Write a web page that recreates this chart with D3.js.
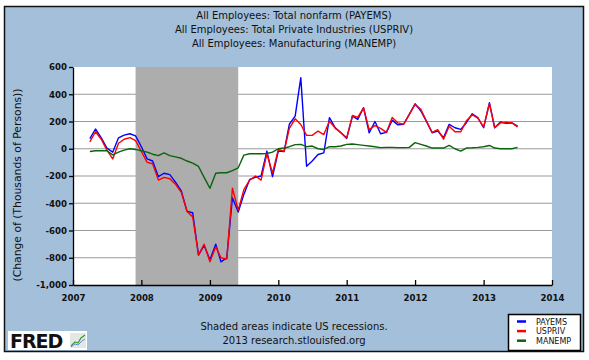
<!DOCTYPE html>
<html>
<head>
<meta charset="utf-8">
<script src="https://cdn.jsdelivr.net/npm/d3@7"></script>
<style>
  body { margin: 0; background: #fff; }
  text { font-family: "DejaVu Sans", Verdana, sans-serif; }
</style>
</head>
<body>
<div id="div_chart"></div>
<script>
// chart texts
const titles = [
  "All Employees: Total nonfarm (PAYEMS)",
  "All Employees: Total Private Industries (USPRIV)",
  "All Employees: Manufacturing (MANEMP)"
];
const yTitle = "(Change of (Thousands of Persons))";
const footer = ["Shaded areas indicate US recessions.", "2013 research.stlouisfed.org"];

// monthly changes, Apr 2007 .. Jul 2013
const firstMonth = new Date(2007, 3, 1);
const lastMonth = new Date(2013, 6, 1);

const payems = [
  75, 145, 80, 5, -25, 80, 100, 110, 95,
  15, -75, -90, -205, -180, -190, -245, -310, -460, -470, -780, -710,
  -815, -700, -830, -800, -360, -465, -335, -225, -210, -200, -17, -205,
  -17, -20, 180, 240, 522, -128, -90, -42, -30, 228, 154, 117,
  76, 240, 215, 301, 117, 200, 110, 120, 210, 175, 180, 252,
  330, 277, 203, 117, 130, 81, 179, 154, 142, 191, 257, 228,
  154, 338, 154, 196, 186, 191, 166
];

const usPriv = [
  50, 125, 70, -10, -75, 40, 70, 82, 60,
  -20, -100, -110, -230, -210, -220, -260, -320, -460, -500, -780, -700,
  -830, -720, -800, -810, -290, -450, -300, -230, -200, -230, -35, -180,
  -5, -20, 150, 220, 178, 98, 98, 130, 104, 203, 150, 120,
  80, 245, 230, 300, 140, 170, 150, 120, 230, 190, 180, 250,
  325, 289, 205, 120, 140, 70, 165, 125, 125, 205, 250, 225,
  160, 330, 155, 190, 195, 190, 160
];

const manemp = [
  -20, -15, -15, -15, -45, -25, -10, 0, -5,
  -15, -25, -40, -50, -30, -50, -60, -70, -90, -105, -130, -210,
  -290, -180, -176, -176, -160, -140, -47, -37, -37, -37, -35, -25,
  0, 5, 15, 30, 32, 15, 20, 0, -5, 15, 15, 20,
  32, 35, 30, 25, 20, 15, 8, 10, 10, 8, 8, 10,
  45, 32, 20, 5, 5, 5, 24, 0, -17, 5, 7, 10,
  15, 24, 5, 0, 0, 0, 10
];

const seriesNames = ["PAYEMS", "USPRIV", "MANEMP"];
const seriesColors = ["#0000ff", "#ff0000", "#0a640a"];
const yTicks = [-1000, -800, -600, -400, -200, 0, 200, 400, 600];
const xYears = [2007, 2008, 2009, 2010, 2011, 2012, 2013, 2014];
const recession = [new Date(2007, 11, 1), new Date(2009, 5, 1)];

// dimensions
const W = 589, H = 360;
const margin = {top: 67, right: 37, bottom: 75, left: 73},
    width = W - margin.left - margin.right,
    height = H - margin.top - margin.bottom;

const svg = d3.select("#div_chart")
  .append("svg")
    .attr("width", W)
    .attr("height", H);

// outer panel
svg.append("rect")
  .attr("x", 4.5).attr("y", 6.5)
  .attr("width", 579).attr("height", 345)
  .attr("fill", "#a3bfd9")
  .attr("stroke", "#111")
  .attr("stroke-width", 1.5);

// titles
svg.selectAll(".title")
  .data(titles)
  .join("text")
    .attr("class", "title")
    .attr("x", 294)
    .attr("y", (d, i) => 19 + i * 14)
    .attr("text-anchor", "middle")
    .attr("font-size", 10)
    .attr("fill", "#111")
    .text(d => d);

const months = d3.timeMonth.range(firstMonth, d3.timeMonth.offset(lastMonth, 1));

const x = d3.scaleTime()
  .domain([new Date(2007, 0, 1), new Date(2014, 0, 1)])
  .range([0, width]);
const y = d3.scaleLinear()
  .domain([-1000, 600])
  .range([height, 0]);

const g = svg.append("g")
  .attr("transform", `translate(${margin.left},${margin.top})`);

// plot background
g.append("rect")
  .attr("width", width).attr("height", height)
  .attr("fill", "#fff");

// grid
g.selectAll(".grid")
  .data(yTicks.filter(d => d > -1000 && d < 600))
  .join("line")
    .attr("class", "grid")
    .attr("x1", 0).attr("x2", width)
    .attr("y1", d => y(d)).attr("y2", d => y(d))
    .attr("stroke", "#9a9a9a")
    .attr("stroke-width", 1.2);

// recession shading
g.append("rect")
  .attr("x", x(recession[0]))
  .attr("width", x(recession[1]) - x(recession[0]))
  .attr("y", 0).attr("height", height)
  .attr("fill", "#adadad");

// axes
const fmt = d3.format(",");
const yAxis = g.append("g")
  .call(d3.axisLeft(y).tickValues(yTicks).tickSize(4).tickSizeOuter(0)
    .tickFormat(d => fmt(d).replace("\u2212", "-")));
const xAxis = g.append("g")
  .attr("transform", `translate(0,${height})`)
  .call(d3.axisBottom(x)
    .tickValues(xYears.map(v => new Date(v, 0, 1)))
    .tickSize(-5).tickSizeOuter(0)
    .tickFormat(d3.timeFormat("%Y")));

[yAxis, xAxis].forEach(a => {
  a.select(".domain").attr("stroke", "#000").attr("stroke-width", 1.3);
  a.selectAll(".tick line").attr("stroke", "#000").attr("stroke-width", 1.3);
  a.selectAll("text")
    .attr("font-family", "DejaVu Sans")
    .attr("font-weight", "bold")
    .attr("font-size", 8.6)
    .attr("fill", "#111");
});
yAxis.selectAll("text").attr("x", -6);
xAxis.selectAll("text").attr("y", 10);

// lines
const line = d3.line()
  .x((d, i) => x(months[i]))
  .y(d => y(d));

const allSeries = [payems, usPriv, manemp];
g.selectAll(".series")
  .data(allSeries)
  .join("path")
    .attr("class", "series")
    .attr("fill", "none")
    .attr("stroke", (d, i) => seriesColors[i])
    .attr("stroke-width", 1.4)
    .attr("stroke-linejoin", "round")
    .attr("d", line);

// y title
svg.append("text")
  .attr("transform", "translate(21,185) rotate(-90)")
  .attr("text-anchor", "middle")
  .attr("font-size", 10.8)
  .attr("fill", "#111")
  .text(yTitle);

// footer
svg.selectAll(".footer")
  .data(footer)
  .join("text")
    .attr("class", "footer")
    .attr("x", 294)
    .attr("y", (d, i) => 330 + i * 14)
    .attr("text-anchor", "middle")
    .attr("font-size", 10)
    .attr("fill", "#111")
    .text(d => d);

// legend
const legend = svg.append("g").attr("transform", "translate(508,314)");
legend.append("rect")
  .attr("x", 0.5).attr("y", 0.5)
  .attr("width", 72).attr("height", 36)
  .attr("fill", "#fff")
  .attr("stroke", "#000")
  .attr("stroke-width", 1.5);
const items = legend.selectAll(".item")
  .data(seriesNames)
  .join("g")
    .attr("class", "item")
    .attr("transform", (d, i) => `translate(0,${7.5 + i * 9.6})`);
items.append("line")
  .attr("x1", 9).attr("x2", 18)
  .attr("stroke", (d, i) => seriesColors[i])
  .attr("stroke-width", 2.5);
items.append("text")
  .attr("x", 28).attr("y", 3)
  .attr("font-size", 8)
  .attr("fill", "#111")
  .text(d => d);

// FRED logo
const logo = svg.append("g").attr("transform", "translate(8,331)");
logo.append("rect")
  .attr("width", 79).attr("height", 19)
  .attr("fill", "#fff");
logo.append("text")
  .attr("x", 2).attr("y", 17)
  .attr("font-size", 19)
  .attr("font-weight", "bold")
  .attr("letter-spacing", -1)
  .attr("fill", "#111")
  .text("FRED");
logo.append("rect")
  .attr("x", 62).attr("y", 2)
  .attr("width", 16).attr("height", 15)
  .attr("fill", "#e4e8e4");
logo.append("path")
  .attr("d", "M63,15 L67,11 L70,12 L73,7 L77,4")
  .attr("fill", "none").attr("stroke", "#3a9a3a").attr("stroke-width", 1.2);
logo.append("path")
  .attr("d", "M63,16 L67,13 L70,14 L74,10 L77,8")
  .attr("fill", "none").attr("stroke", "#6a8ac8").attr("stroke-width", 1);
</script>
</body>
</html>
